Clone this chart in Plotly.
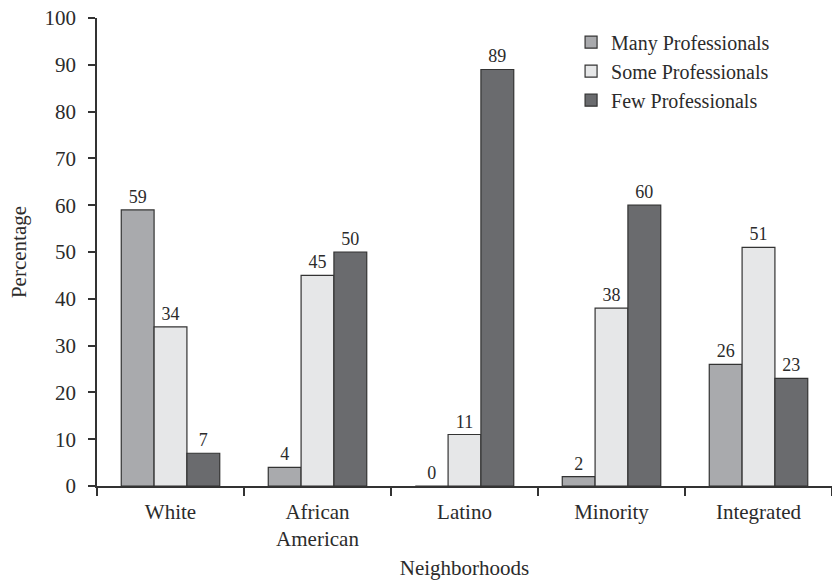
import plotly.graph_objects as go

categories = ["White", "African<br>American", "Latino", "Minority", "Integrated"]
many_professionals = [59, 4, 0, 2, 26]
some_professionals = [34, 45, 11, 38, 51]
few_professionals = [7, 50, 89, 60, 23]

series = [
    ("Many Professionals", many_professionals, "#a9aaad"),
    ("Some Professionals", some_professionals, "#e6e7e8"),
    ("Few Professionals", few_professionals, "#6a6b6e"),
]

FONT = "Liberation Serif, Times New Roman, serif"
INK = "#2b2b2b"
SIZE = 21

fig = go.Figure()
for name, vals, color in series:
    fig.add_trace(go.Bar(
        name=name,
        x=categories,
        y=vals,
        marker=dict(color=color, line=dict(color="#333333", width=1.2)),
        text=[str(v) for v in vals],
        textposition="outside",
        textfont=dict(family=FONT, size=18, color=INK),
        cliponaxis=False,
    ))

fig.update_layout(
    width=832,
    height=580,
    margin=dict(l=97, r=0, t=18, b=94),
    paper_bgcolor="white",
    plot_bgcolor="white",
    barmode="group",
    bargap=0.33,
    bargroupgap=0,
    font=dict(family=FONT, size=SIZE, color=INK),
    showlegend=True,
    legend=dict(
        x=0.645, y=0.99, xanchor="left", yanchor="top",
        font=dict(family=FONT, size=20, color=INK),
        bgcolor="rgba(0,0,0,0)",
        tracegroupgap=0,
        itemwidth=30,
    ),
    xaxis=dict(
        range=[-0.5, 4.5],
        showline=True, linecolor="#333333", linewidth=1.5,
        ticks="outside", tickson="boundaries", ticklen=8, tickwidth=1.5, tickcolor="#333333",
        showgrid=False, zeroline=False,
        tickfont=dict(family=FONT, size=SIZE, color=INK),
        ticklabelstandoff=6,
        title=dict(text="Neighborhoods", font=dict(family=FONT, size=SIZE, color=INK), standoff=14),
    ),
    yaxis=dict(
        range=[0, 100],
        dtick=10,
        showline=True, linecolor="#333333", linewidth=1.5,
        ticks="outside", ticklen=7, tickwidth=1.5, tickcolor="#333333",
        showgrid=False, zeroline=False,
        tickfont=dict(family=FONT, size=SIZE, color=INK),
        ticklabelstandoff=8,
        title=dict(text="Percentage", font=dict(family=FONT, size=SIZE, color=INK), standoff=12),
    ),
)

fig.write_html("out.html")
